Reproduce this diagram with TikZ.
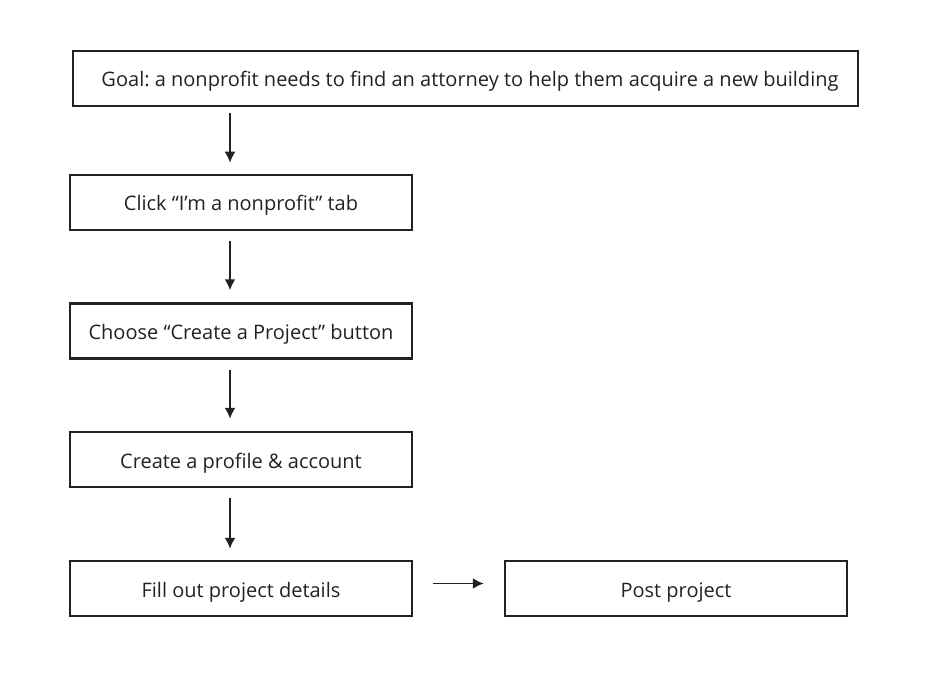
\documentclass[tikz,border=0pt]{standalone}
\usepackage{fontspec}
\setmainfont{Open Sans}
\usetikzlibrary{arrows.meta}
\definecolor{ink}{HTML}{222222}
\frenchspacing
\begin{document}
\begin{tikzpicture}
	[
	x=1pt, y=-1pt, font=\fontsize{20}{24}\selectfont, text=ink, >={Latex[length=11pt,width=11pt]},
	%Kasten und Pfeile
	stepbox/.style={draw=ink, line width=2.5pt, minimum height=55pt, inner sep=0pt, text height=19pt, text depth=2pt},
	flow/.style={->, draw=ink, line width=1.8pt}
	]
	\useasboundingbox (0,0) rectangle (931,695);
	
	%Ziel
	\node[stepbox, minimum width=785pt] (goal) at (465.5,78.5) {\hspace*{9pt}Goal: a nonprofit needs to find an attorney to help them acquire a new building};
	
	%Schritte
	\node[stepbox, minimum width=342pt] (tab) at (241,202.5) {Click “I’m a nonprofit” tab};
	\node[stepbox, minimum width=342pt] (choose) at (241,331) {Choose “Create a Project” button};
	\node[stepbox, minimum width=342pt] (profile) at (241,459.5) {Create a profile \& account};
	\node[stepbox, minimum width=342pt] (details) at (241,588.5) {Fill out project details};
	\node[stepbox, minimum width=342pt] (post) at (676,588.5) {Post project};
	
	%Pfeile
	\draw[flow] ([xshift=-11pt,yshift=-6pt]tab.north |- goal.south) -- ([xshift=-11pt,yshift=11pt]tab.north);
	\draw[flow] ([xshift=-11pt,yshift=-10pt]tab.south) -- ([xshift=-11pt,yshift=12pt]choose.north);
	\draw[flow] ([xshift=-11pt,yshift=-10pt]choose.south) -- ([xshift=-11pt,yshift=12pt]profile.north);
	\draw[flow] ([xshift=-11pt,yshift=-10pt]profile.south) -- ([xshift=-11pt,yshift=11pt]details.north);
	\draw[flow] ([xshift=20pt,yshift=5pt]details.east) -- ([xshift=-20pt,yshift=5pt]post.west);
\end{tikzpicture}
\end{document}
